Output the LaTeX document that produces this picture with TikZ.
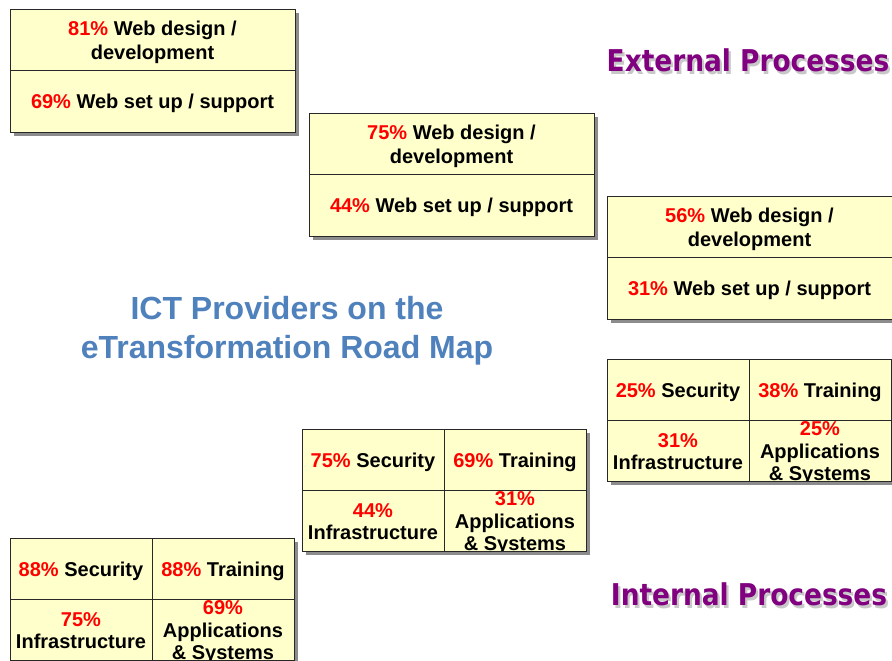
\documentclass[tikz,border=0pt]{standalone}
\usepackage{fontspec}
\setmainfont{Liberation Sans}
\newfontfamily\headfont{DejaVu Sans}
\definecolor{boxyellow}{RGB}{255,255,204}
\definecolor{shadowgray}{RGB}{140,140,140}
\definecolor{boxborder}{RGB}{40,40,40}
\definecolor{pctred}{RGB}{255,0,0}
\definecolor{procpurple}{RGB}{128,0,128}
\definecolor{headshadow}{RGB}{200,200,200}
\definecolor{titleblue}{RGB}{79,129,189}
\newcommand{\pc}[1]{\textcolor{pctred}{#1}}
\newcommand{\shadowed}[1]{\makebox[0pt][l]{\hspace{2.5pt}\raisebox{-2.5pt}{\textcolor{headshadow}{#1}}}\textcolor{procpurple}{#1}}
\tikzset{
  boxline/.style={draw=boxborder, line width=0.9pt},
  celltext/.style={font=\fontsize{20}{24}\selectfont\bfseries, align=center, inner sep=0pt, text=black},
  gridtext/.style={font=\fontsize{20}{22.5}\selectfont\bfseries, align=center, inner sep=0pt, text=black},
  proctext/.style={font=\headfont\bfseries\fontsize{30}{36}\selectfont, inner sep=0pt},
  titletext/.style={font=\fontsize{32}{39}\selectfont\bfseries, align=center, inner sep=0pt, text=titleblue},
}
\newcommand{\webbox}[5]{%
  \fill[shadowgray] (#2+4,#3+4) rectangle (#2+289,#3+127);
  \fill[boxyellow] (#2,#3) rectangle (#2+285,#3+123);
  \node[celltext] (#1-top) at (#2+142.5,#3+33) {\pc{#4} Web design /\\development};
  \node[celltext] (#1-bot) at (#2+142.5,#3+94) {\pc{#5} Web set up / support};
  \draw[boxline] (#2,#3) rectangle (#2+285,#3+123);
  \draw[boxline] (#2,#3+61) -- (#2+285,#3+61);
}
\newcommand{\gridbox}[7]{%
  \fill[shadowgray] (#2+4,#3+4) rectangle (#2+288,#3+126);
  \fill[boxyellow] (#2,#3) rectangle (#2+284,#3+122);
  \begin{scope}
    \clip (#2,#3) rectangle (#2+284,#3+122);
    \node[gridtext] (#1-sec) at (#2+71,#3+33) {\pc{#4} Security};
    \node[gridtext] (#1-trn) at (#2+213,#3+33) {\pc{#5} Training};
    \node[gridtext] (#1-inf) at (#2+71,#3+92.5) {\pc{#6}\\Infrastructure};
    \node[gridtext] (#1-app) at (#2+213,#3+94.5) {\pc{#7}\\Applications\\\& Systems};
  \end{scope}
  \draw[boxline] (#2,#3) rectangle (#2+284,#3+122);
  \draw[boxline] (#2,#3+61) -- (#2+284,#3+61);
  \draw[boxline] (#2+142,#3) -- (#2+142,#3+122);
}
\begin{document}
\begin{tikzpicture}[x=1pt,y=-1pt]
\useasboundingbox (0,0) rectangle (892,661);
\fill[white] (0,0) rectangle (892,661);

\webbox{wa}{10}{9}{81\%}{69\%}
\webbox{wb}{309}{113}{75\%}{44\%}
\webbox{wc}{607}{196}{56\%}{31\%}

\gridbox{ga}{607}{359}{25\%}{38\%}{31\%}{25\%}
\gridbox{gb}{302}{429}{75\%}{69\%}{44\%}{31\%}
\gridbox{gc}{10}{538}{88\%}{88\%}{75\%}{69\%}

\node[titletext] (title) at (287,331) {ICT Providers on the\\eTransformation Road Map};

\node[proctext] (ext) at (748,62) {\scalebox{0.88}[1]{\shadowed{External Processes}}};
\node[proctext] (int) at (749,596) {\scalebox{0.88}[1]{\shadowed{Internal Processes}}};
\end{tikzpicture}
\end{document}
